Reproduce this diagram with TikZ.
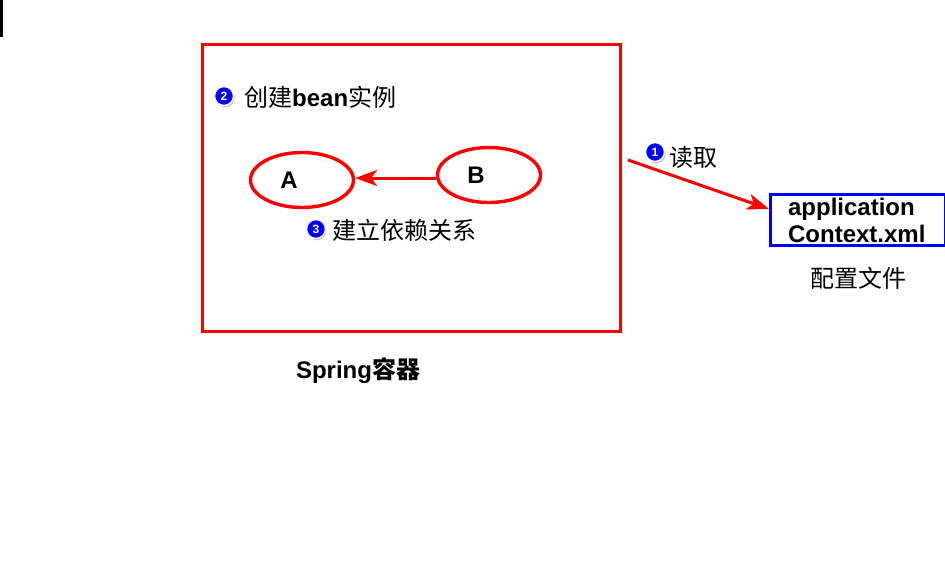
\documentclass[tikz,border=0pt]{standalone}
\usepackage{fontspec}
\setmainfont{Liberation Sans}
\newfontfamily\cjk{Noto Sans CJK SC}
\usetikzlibrary{shapes.geometric,arrows.meta,shadows}
\newcommand{\zh}[1]{{\cjk #1}}
\begin{document}
\begin{tikzpicture}[x=1pt, y=-1pt, font=\fontsize{24}{27}\selectfont\bfseries,
      redline/.style={draw=red, line width=3.4pt},
      bean/.style={ellipse, redline, minimum width=103pt, minimum height=55pt, inner sep=0pt},
      badge/.style={circle, fill=blue, draw=white, line width=1.4pt, minimum size=19pt, inner sep=0pt,
        text=white, font=\fontsize{12}{12}\selectfont\bfseries, drop shadow={shadow xshift=1.2pt, shadow yshift=-1.8pt, opacity=0.45}},
      lbl/.style={anchor=west, inner sep=0pt},
      dep/.style={-{Stealth[length=22pt, width=16pt, inset=6pt]}, draw=red, line width=3pt}]
    \useasboundingbox (0,0) rectangle (945,568);
    \fill[black] (0,0) rectangle (2.5,37);
    % Spring container
    \node[redline, minimum width=418pt, minimum height=287pt, anchor=north west, inner sep=0pt] (box) at (201,43) {};
    \node (name) at (358,371) {Spring\zh{容器}};
    \node[badge] (b2) at (224,96) {2};
    \node[lbl] (create) at (244,97) {\zh{\mdseries 创建}bean\zh{\mdseries 实例}};
    \node[bean] (a) at (302,180) {\hspace*{-26pt}A};
    \node[bean] (b) at (489,175) {\hspace*{-26pt}B};
    \draw[dep] (b.west |- 0,178) -- (a.east |- 0,178);
    \node[badge] (b3) at (316,229) {3};
    \node[lbl] (dep) at (332,230) {\zh{\mdseries 建立依赖关系}};
    % config file
    \node[draw=blue, line width=3.2pt, minimum width=175pt, minimum height=51pt, anchor=north west,
      align=left, inner sep=0pt, text width=156pt] (cfg) at (769,193)
      {\hspace*{8pt}application\\\hspace*{8pt}Context.xml};
    \node (cfgname) at (858,278) {\zh{\mdseries 配置文件}};
    \node[badge] (b1) at (655,152) {1};
    \node[lbl] (read) at (669,157) {\zh{\mdseries 读取}};
    \coordinate (from) at (628,160);
    \draw[dep] (from) -- (cfg.west |- 0,209);
  \end{tikzpicture}
\end{document}
